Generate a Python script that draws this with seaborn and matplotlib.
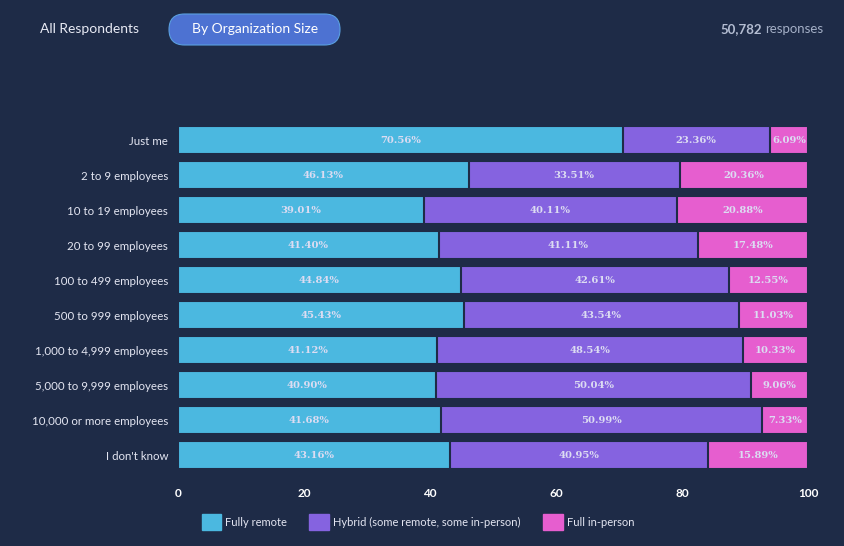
import pandas as pd
import matplotlib.pyplot as plt
import seaborn as sns
from matplotlib.patches import FancyBboxPatch, Patch

# Remote work split by organization size (percent of respondents)
sizes = ["Just me", "2 to 9 employees", "10 to 19 employees", "20 to 99 employees",
         "100 to 499 employees", "500 to 999 employees", "1,000 to 4,999 employees",
         "5,000 to 9,999 employees", "10,000 or more employees", "I don't know"]
fully_remote = [70.56, 46.13, 39.01, 41.40, 44.84, 45.43, 41.12, 40.90, 41.68, 43.16]
hybrid = [23.36, 33.51, 40.11, 41.11, 42.61, 43.54, 48.54, 50.04, 50.99, 40.95]
in_person = [6.09, 20.36, 20.88, 17.48, 12.55, 11.03, 10.33, 9.06, 7.33, 15.89]
series_names = ["Fully remote", "Hybrid (some remote, some in-person)", "Full in-person"]
x_ticks = [0, 20, 40, 60, 80, 100]

bg = "#1e2b47"
colors = ["#4bb8e0", "#8563e0", "#e65ecf"]
label_color = "#dcdcf2"

sns.set_theme(style="dark")
plt.rcParams['font.family'] = ['Lato', 'DejaVu Sans']

df = pd.DataFrame({"size": sizes, "remote": fully_remote,
                   "hybrid": hybrid, "in_person": in_person})
df["cum_hybrid"] = df["remote"] + df["hybrid"]
df["cum_total"] = df["cum_hybrid"] + df["in_person"]

fig = plt.figure(figsize=(8.45, 5.46), dpi=100, facecolor=bg)
ax = fig.add_axes([0.2107, 0.1346, 0.7456, 0.641])
ax.set_facecolor(bg)

# stacked by drawing the cumulative totals back to front
for col, c in zip(["cum_total", "cum_hybrid", "remote"], colors[::-1]):
    sns.barplot(data=df, x=col, y="size", orient="h", color=c, width=0.8,
                edgecolor=bg, linewidth=1.5, saturation=1, ax=ax)

# value labels centred in each segment
for i in range(len(sizes)):
    starts = [0, fully_remote[i], fully_remote[i] + hybrid[i]]
    vals = [fully_remote[i], hybrid[i], in_person[i]]
    for s, v in zip(starts, vals):
        ax.text(s + v / 2, i, f"{v:.2f}%", ha="center", va="center",
                color=label_color, fontsize=7.2, fontweight="bold", family="DejaVu Serif")

ax.set_xlim(0, 100)
ax.set_ylim(len(sizes) - 0.5, -0.5)
ax.set_xticks(x_ticks)
ax.set_xticklabels([str(t) for t in x_ticks], fontweight="bold")
ax.tick_params(axis="x", colors="white", labelsize=8.5, length=0, pad=11)
ax.tick_params(axis="y", colors="#e4e6f2", labelsize=8.3, length=0, pad=7)
ax.set_xlabel("")
ax.set_ylabel("")
ax.grid(False)
for sp in ax.spines.values():
    sp.set_visible(False)

# header controls
fig.text(40 / 845, 1 - 29 / 546, "All Respondents", color="#e8eaf4", fontsize=10,
         ha="left", va="center")
pill = FancyBboxPatch((1.69, 5.01), 1.71, 0.31,
                      boxstyle="round,pad=0,rounding_size=0.155",
                      transform=fig.dpi_scale_trans,
                      facecolor="#4d72d2", edgecolor="#5a9fe0", linewidth=0.8)
fig.patches.append(pill)
fig.text(255 / 845, 1 - 29 / 546, "By Organization Size", color="white", fontsize=10,
         ha="center", va="center")
fig.text(823 / 845, 1 - 29 / 546, "responses", color="#a4afc6", fontsize=9.5,
         ha="right", va="center")
fig.text(762 / 845, 1 - 29 / 546, "50,782", color="#b4bdd2", fontsize=9.5,
         fontweight="bold", ha="right", va="center")

handles = [Patch(facecolor=c, edgecolor=c) for c in colors]
leg = fig.legend(handles, series_names, loc="center", bbox_to_anchor=(418 / 845, 1 - 522 / 546),
                 ncol=3, frameon=False, fontsize=8, handlelength=1.75, handleheight=1.75,
                 columnspacing=2.0, handletextpad=0.4)
for t in leg.get_texts():
    t.set_color("#e4e6f2")

fig.savefig("out.png", dpi=100, facecolor=bg)
